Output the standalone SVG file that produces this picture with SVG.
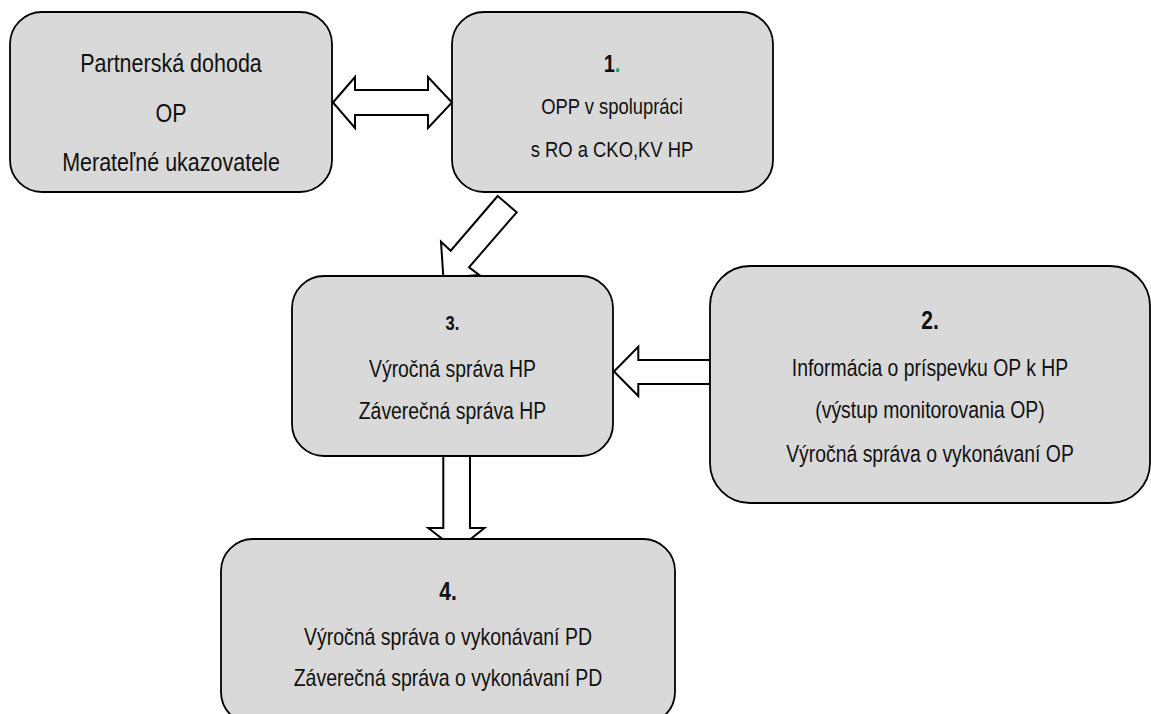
<svg xmlns="http://www.w3.org/2000/svg" width="1151" height="714" viewBox="0 0 1151 714">
  <style>
    .box { fill: #d9d9d9; stroke: #000; stroke-width: 1.8; }
    .arrow { fill: #fff; stroke: #000; stroke-width: 2; stroke-linejoin: miter; }
    text { font-family: "Liberation Sans", Arial, sans-serif; fill: #111; text-anchor: middle; }
    .num { font-weight: bold; }
    .green { fill: #00b050; }
  </style>
  <rect width="1151" height="714" fill="#fff"/>

  <!-- block arrows (drawn first so the boxes cover their tips) -->
  <g id="connectors">
    <polygon id="arrow-pd-1" class="arrow" points="333,102.5 355,77 355,90 428,90 428,77 452,102.5 428,128 428,115 355,115 355,128"/>
    <polygon id="arrow-1-3" class="arrow" points="497.7,196 516.7,212.3 469,267.3 479.3,275 443.4,278 441,241.7 450.7,250.7"/>
    <polygon id="arrow-2-3" class="arrow" points="614,371.5 638.3,346.7 638.3,360 710,360 710,384 638.3,384 638.3,396"/>
    <polygon id="arrow-3-4" class="arrow" points="443.3,456 470,456 470,528 484.5,528 456.7,550 428.3,528 443.3,528"/>
  </g>

  <g id="node-pd">
    <rect class="box" x="10" y="12" width="322" height="180" rx="32" ry="32"/>
    <text transform="translate(171 72) scale(1 1.18)" font-size="21.5">Partnerská dohoda</text>
    <text transform="translate(171 122) scale(1 1.18)" font-size="21.5">OP</text>
    <text transform="translate(171 171) scale(1 1.18)" font-size="21.5">Merateľné ukazovatele</text>
  </g>

  <g id="node-1">
    <rect class="box" x="452" y="12" width="321" height="180" rx="32" ry="32"/>
    <text class="num" transform="translate(612 72) scale(1 1.2)" font-size="20">1<tspan class="green">.</tspan></text>
    <text transform="translate(612 114) scale(1 1.2)" font-size="18.4">OPP v spolupráci</text>
    <text transform="translate(612 157) scale(1 1.2)" font-size="18.4">s RO a CKO,KV HP</text>
  </g>

  <g id="node-3">
    <rect class="box" x="292" y="276" width="321" height="180" rx="32" ry="32"/>
    <text class="num" transform="translate(452.5 330) scale(1 1.2)" font-size="16.5">3.</text>
    <text transform="translate(452.5 377) scale(1 1.2)" font-size="19.4">Výročná správa HP</text>
    <text transform="translate(452.5 419) scale(1 1.2)" font-size="19.4">Záverečná správa HP</text>
  </g>

  <g id="node-2">
    <rect class="box" x="710" y="266" width="440" height="237" rx="40" ry="40"/>
    <text class="num" transform="translate(930 329) scale(1 1.2)" font-size="21">2.</text>
    <text transform="translate(930 376) scale(1 1.2)" font-size="19.4">Informácia o príspevku OP k HP</text>
    <text transform="translate(930 418) scale(1 1.2)" font-size="19.4">(výstup monitorovania OP)</text>
    <text transform="translate(930 462) scale(1 1.2)" font-size="19.4">Výročná správa o vykonávaní OP</text>
  </g>

  <g id="node-4">
    <rect class="box" x="221" y="539" width="454" height="185" rx="32" ry="32"/>
    <text class="num" transform="translate(448 600) scale(1 1.2)" font-size="21">4.</text>
    <text transform="translate(448 645) scale(1 1.2)" font-size="19.5">Výročná správa o vykonávaní PD</text>
    <text transform="translate(448 686) scale(1 1.2)" font-size="19.5">Záverečná správa o vykonávaní PD</text>
  </g>
</svg>
